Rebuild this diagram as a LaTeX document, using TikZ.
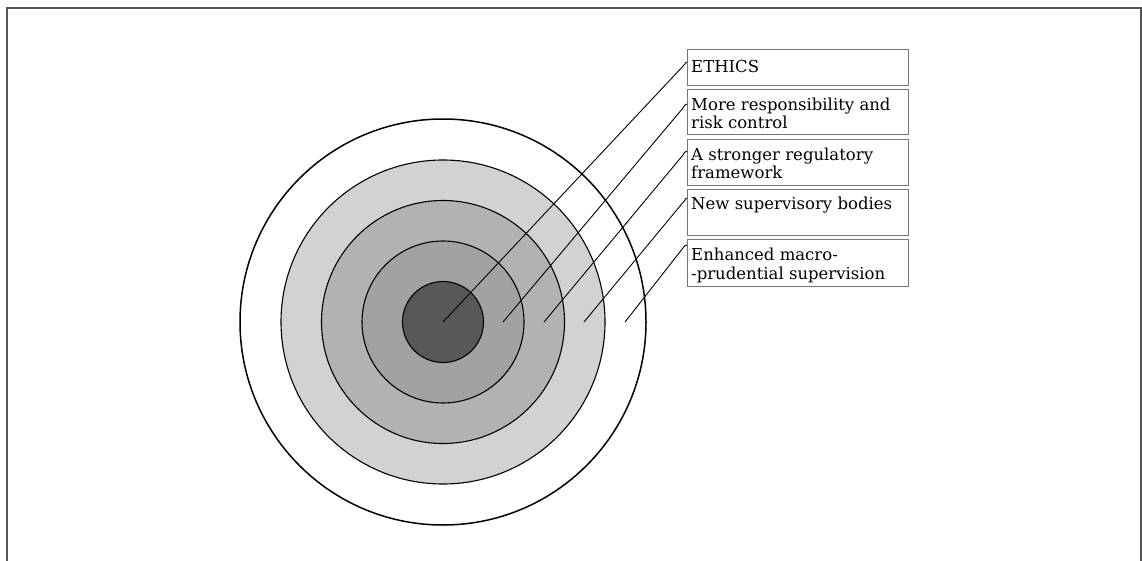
\documentclass[tikz,border=0pt]{standalone}
\usepackage{fontspec}
\setmainfont{DejaVu Serif}
\definecolor{cinner}{HTML}{575958}
\definecolor{cring}{HTML}{A1A2A4}
\definecolor{cringb}{HTML}{B1B2B4}
\definecolor{cringc}{HTML}{D1D2D4}
\definecolor{cframe}{HTML}{555555}
\definecolor{cbox}{HTML}{777777}
\begin{document}
\begin{tikzpicture}[x=1pt,y=-1pt,
  ring/.style={circle,draw=black,line width=1.1pt,inner sep=0pt,outer sep=0pt},
  labelbox/.style={draw=cbox,line width=0.9pt,minimum width=221pt,inner sep=0pt,anchor=north west},
  labeltext/.style={anchor=base west,inner sep=0pt,font=\fontsize{16.5}{18}\selectfont},
  lead/.style={draw=black,line width=0.9pt}]
\useasboundingbox (0,0) rectangle (1142,561);
\draw[cframe,line width=1.6pt] (7,561) -- (7,8) -- (1141,8) -- (1141,561);
% circles
\node[ring,fill=white,line width=1.5pt,minimum size=406pt] (c5) at (443,322) {};
\node[ring,fill=cringc,minimum size=324pt] (c4) at (443,322) {};
\node[ring,fill=cringb,minimum size=243pt] (c3) at (443,322) {};
\node[ring,fill=cring,minimum size=162pt] (c2) at (443,322) {};
\node[ring,fill=cinner,minimum size=81pt] (c1) at (443,322) {};
% boxes
\node[labelbox,minimum height=36pt] (b1) at (687,49) {};
\node[labelbox,minimum height=45pt] (b2) at (687,89) {};
\node[labelbox,minimum height=46pt] (b3) at (687,139) {};
\node[labelbox,minimum height=46pt] (b4) at (687,189) {};
\node[labelbox,minimum height=47pt] (b5) at (687,239) {};
\node[labeltext] (t1) at ([xshift=4pt,yshift=-24pt]b1.north west) {\parbox[t]{215pt}{ETHICS}};
\node[labeltext] (t2) at ([xshift=4pt,yshift=-22pt]b2.north west) {\parbox[t]{215pt}{More responsibility and\\risk control}};
\node[labeltext] (t3) at ([xshift=4pt,yshift=-22pt]b3.north west) {\parbox[t]{215pt}{A stronger regulatory\\framework}};
\node[labeltext] (t4) at ([xshift=4pt,yshift=-21pt]b4.north west) {\parbox[t]{215pt}{New supervisory bodies}};
\node[labeltext] (t5) at ([xshift=4pt,yshift=-22pt]b5.north west) {\parbox[t]{215pt}{Enhanced macro-\\-prudential supervision}};
% leader lines
\coordinate (s1) at (443,322); \coordinate (e1) at (685,64); \coordinate (h1) at (687,62);
\coordinate (s2) at (503,322); \coordinate (e2) at (683,108); \coordinate (h2) at (687,104);
\coordinate (s3) at (544,322); \coordinate (e3) at (683,155); \coordinate (h3) at (687,151);
\coordinate (s4) at (584,322); \coordinate (e4) at (685,200); \coordinate (h4) at (687,198);
\coordinate (s5) at (625,322); \coordinate (e5) at (683,248); \coordinate (h5) at (687,245);
\foreach \i in {1,...,5}{
  \draw[lead] (s\i) -- (e\i) to[out=55,in=180] (h\i);
}
\end{tikzpicture}
\end{document}
